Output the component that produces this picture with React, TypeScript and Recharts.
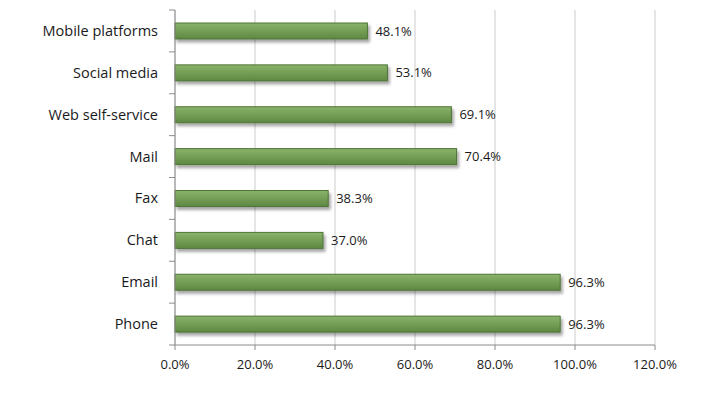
import React from 'react';
import { BarChart, Bar, XAxis, YAxis, CartesianGrid, LabelList } from 'recharts';

const channels = ['Mobile platforms', 'Social media', 'Web self-service', 'Mail', 'Fax', 'Chat', 'Email', 'Phone'];
const shares = [48.1, 53.1, 69.1, 70.4, 38.3, 37.0, 96.3, 96.3];
const xTicks = [0, 20, 40, 60, 80, 100, 120];

const data = channels.map((name, i) => ({ name, value: shares[i] }));

const FONT = '"Open Sans", "Liberation Sans", sans-serif';
const PLOT_H = 335;

const CategoryTick = (props: any) => {
    const { x, y, payload } = props;
    const half = PLOT_H / channels.length / 2;
    return (
        <g>
            <line x1={x + 2} x2={x + 8} y1={y - half} y2={y - half} stroke="#8c8c8c" />
            {payload.index === channels.length - 1 && (
                <line x1={x + 2} x2={x + 8} y1={y + half} y2={y + half} stroke="#8c8c8c" />
            )}
            <text x={x - 9} y={y} dy={5} textAnchor="end" fill="#1a1a1a" fontSize={14.5} fontFamily={FONT}>
                {payload.value}
            </text>
        </g>
    );
};

const ShadedBar = (props: any) => {
    const { x, y, width, height } = props;
    if (!width) return null;
    return (
        <g>
            <rect x={x} y={y} width={width} height={height} fill="url(#barFill)" stroke="#4e7436" strokeWidth={1} filter="url(#barShadow)" />
        </g>
    );
};

export default function App() {
    return (
        <div style={{ position: 'absolute', left: 0, top: 0, background: '#fff' }}>
            <BarChart
                width={710}
                height={397}
                data={data}
                layout="vertical"
                margin={{ top: 10, right: 55, bottom: 22, left: 0 }}
                barCategoryGap={13}
            >
                <defs>
                    <linearGradient id="barFill" x1="0" y1="0" x2="0" y2="1">
                        <stop offset="0%" stopColor="#8ab46b" />
                        <stop offset="45%" stopColor="#76a057" />
                        <stop offset="100%" stopColor="#5e8842" />
                    </linearGradient>
                    <filter id="barShadow" x="-5%" y="-30%" width="115%" height="190%">
                        <feDropShadow dx="2" dy="3" stdDeviation="1.5" floodColor="#000" floodOpacity="0.35" />
                    </filter>
                </defs>
                <CartesianGrid horizontal={false} stroke="#cccccc" />
                <XAxis
                    type="number"
                    domain={[0, 120]}
                    ticks={xTicks}
                    interval={0}
                    height={30}
                    tickFormatter={(v: number) => `${v.toFixed(1)}%`}
                    tick={{ fill: '#1a1a1a', fontSize: 13, fontFamily: FONT }}
                    axisLine={{ stroke: '#8c8c8c' }}
                    tickLine={{ stroke: '#8c8c8c' }}
                    tickSize={5}
                    tickMargin={10}
                />
                <YAxis
                    type="category"
                    dataKey="name"
                    width={175}
                    tick={<CategoryTick />}
                    tickLine={false}
                    axisLine={{ stroke: '#8c8c8c' }}
                    interval={0}
                />
                <Bar dataKey="value" shape={<ShadedBar />} isAnimationActive={false}>
                    <LabelList
                        dataKey="value"
                        position="right"
                        offset={8}
                        formatter={(v: number) => `${v.toFixed(1)}%`}
                        fill="#1a1a1a"
                        fontSize={13}
                        fontFamily={FONT}
                    />
                </Bar>
            </BarChart>
        </div>
    );
}
